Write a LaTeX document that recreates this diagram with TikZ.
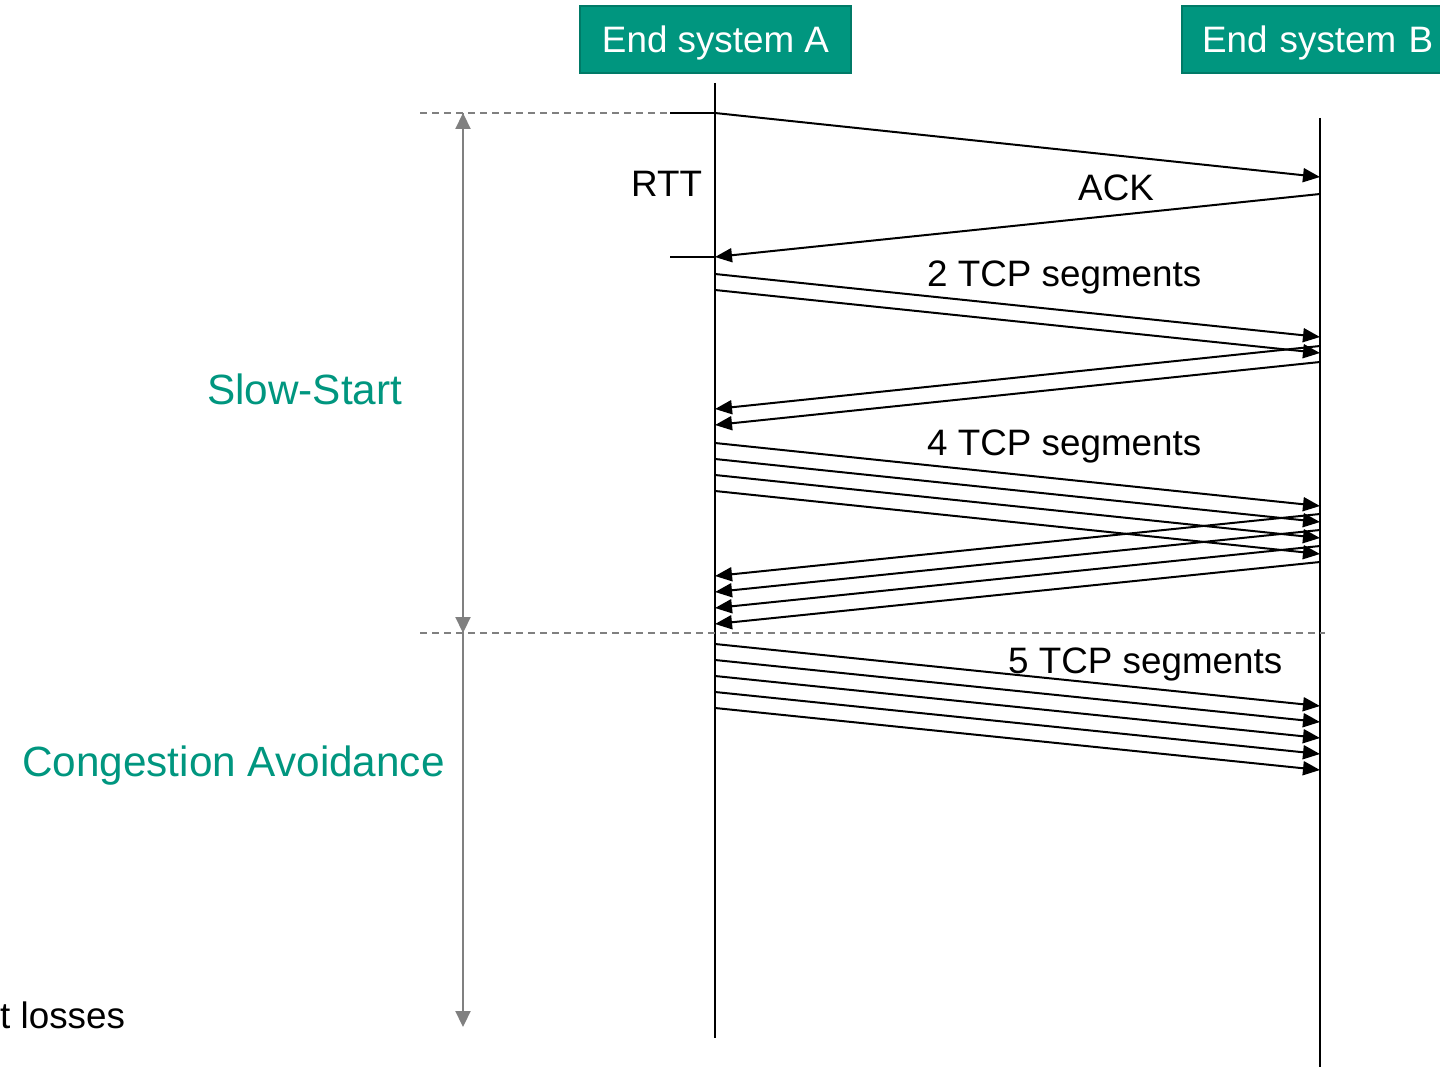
\documentclass[tikz,border=0pt]{standalone}
\usepackage{fontspec}
\setmainfont{Liberation Sans}
\usetikzlibrary{arrows.meta}
\definecolor{boxteal}{HTML}{00967F}
\definecolor{boxedge}{HTML}{007A67}
\definecolor{guidegray}{HTML}{808080}
\begin{document}
\begin{tikzpicture}[x=1pt,y=-1pt,
  sysbox/.style={fill=boxteal, draw=boxedge, line width=1.5pt, text=white,
    font=\fontsize{36.8}{40}\selectfont, minimum height=67pt, inner sep=0,
    text height=26pt, text depth=0pt},
  lifeline/.style={line width=2pt},
  msg/.style={line width=2pt, -{Triangle[length=17pt,width=14pt]}},
  lbl/.style={font=\fontsize{36.8}{40}\selectfont, inner sep=0, anchor=base west},
  phase/.style={font=\fontsize{42.3}{46}\selectfont, text=boxteal, inner sep=0, anchor=base west},
  guide/.style={draw=guidegray, line width=1.5pt, dash pattern=on 7pt off 5pt},
  tick/.style={line width=2pt},
  spanarrow/.style={draw=guidegray, line width=2.2pt,
    -{Triangle[length=16pt,width=15pt,fill=guidegray]}}]

\useasboundingbox (0,0) rectangle (1440,1067);

% end systems
\node[sysbox, minimum width=271pt] (boxA) at (715.5,39.5) {End system A};
\node[sysbox, minimum width=276pt, text width=236pt, align=left] (boxB) at (1320,39.5) {End system B};

% lifelines
\coordinate (Atop) at (715,83);
\coordinate (Abot) at (715,1038);
\coordinate (Btop) at (1320,118);
\coordinate (Bbot) at (1320,1067);
\draw[lifeline] (Atop) -- (Abot);
\draw[lifeline] (Btop) -- (Bbot);

% phase guides
\coordinate (g1l) at (420,113);
\coordinate (g1r) at (670,113);
\coordinate (g2l) at (420,633);
\coordinate (g2r) at (1325,633);
\draw[guide] (g1l) -- (g1r);
\draw[guide] (g2l) -- (g2r);

% RTT marks
\coordinate (r1) at (670,113);
\coordinate (r1a) at (715,113);
\coordinate (r2) at (670,257);
\coordinate (r2a) at (715,257);
\draw[tick] (r1) -- (r1a);
\draw[tick] (r2) -- (r2a);

% phase spans
\coordinate (s0) at (463,113);
\coordinate (s1) at (463,633);
\coordinate (s2) at (463,1027);
\draw[spanarrow] (s1) -- (s0);
\draw[spanarrow] (s0) -- (s1);
\draw[spanarrow] (s1) -- (s2);

% first segment and its ACK
\coordinate (m0a) at (715,113);
\coordinate (m0b) at (1320,177);
\coordinate (k0b) at (1320,194);
\coordinate (k0a) at (715,257);
\draw[msg] (m0a) -- (m0b);
\draw[msg] (k0b) -- (k0a);

% 2 segments and ACKs
\foreach \i in {0,1}{
  \coordinate (p\i a) at (715,274+16*\i);
  \coordinate (p\i b) at (1320,337+16*\i);
  \coordinate (q\i b) at (1320,346+16*\i);
  \coordinate (q\i a) at (715,409+16*\i);
  \draw[msg] (p\i a) -- (p\i b);
  \draw[msg] (q\i b) -- (q\i a);
}

% 4 segments and ACKs
\foreach \i in {0,...,3}{
  \coordinate (u\i a) at (715,443+16*\i);
  \coordinate (u\i b) at (1320,506+16*\i);
  \coordinate (v\i b) at (1320,514+16*\i);
  \coordinate (v\i a) at (715,576+16*\i);
  \draw[msg] (u\i a) -- (u\i b);
  \draw[msg] (v\i b) -- (v\i a);
}

% 5 segments
\foreach \i in {0,...,4}{
  \coordinate (w\i a) at (715,644+16*\i);
  \coordinate (w\i b) at (1320,706+16*\i);
  \draw[msg] (w\i a) -- (w\i b);
}

% labels
\node[lbl] (rtt) at (631,197) {RTT};
\node[lbl] (ack) at (1078,201) {ACK};
\node[lbl] (two) at (927,287) {2 TCP segments};
\node[lbl] (four) at (927,455) {4 TCP segments};
\node[lbl] (five) at (1008,673) {5 TCP segments};
\node[phase] (ss) at (207,404) {Slow-Start};
\node[phase] (ca) at (22,776) {Congestion Avoidance};
\node[lbl] (loss) at (0,1028) {t losses};
\end{tikzpicture}
\end{document}
